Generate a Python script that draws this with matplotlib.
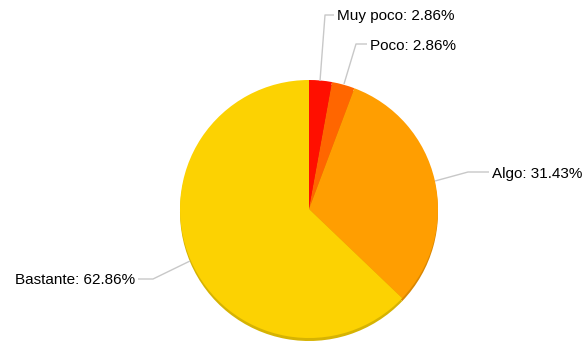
import matplotlib.pyplot as plt
import matplotlib.colors as mcolors

categories = ["Muy poco", "Poco", "Algo", "Bastante"]
percents = [2.86, 2.86, 31.43, 62.86]
colors = ["#FF0F00", "#FF6600", "#FF9E01", "#FCD202"]

# layout in pixel units (y measured from the top)
W, H = 588, 345
cx, cy, r = 309, 209, 129
depth = 3
# (anchor on pie, elbow, text start, ha)
label_layout = [
    ((320, 81), (325, 15), (337, 16), "left"),
    ((344, 84), (356, 44), (370, 46), "left"),
    ((435, 181), (468, 172), (492, 174), "left"),
    ((190, 261), (153, 279), (135, 280), "right"),
]


def darker(c, f=0.85):
    rgb = mcolors.to_rgb(c)
    return tuple(v * f for v in rgb)


fig = plt.figure(figsize=(W / 100, H / 100), dpi=100)
ax = fig.add_axes([0, 0, 1, 1])

# side / depth of the pie
ax.pie(percents, colors=[darker(c) for c in colors], startangle=90,
       counterclock=False, center=(cx, H - cy - depth), radius=r, frame=True)
# top face
ax.pie(percents, colors=colors, startangle=90, counterclock=False,
       center=(cx, H - cy), radius=r, frame=True)
ax.set_xlim(0, W)
ax.set_ylim(0, H)
ax.set_aspect("equal")
ax.axis("off")

for cat, pct, (anchor, elbow, txt, ha) in zip(categories, percents, label_layout):
    end = txt[0] + (-3 if ha == "left" else 3)
    xs = [anchor[0], elbow[0], end]
    ys = [H - anchor[1], H - elbow[1], H - elbow[1]]
    ax.plot(xs, ys, color="#c8c8c8", lw=1, solid_capstyle="butt")
    ax.text(txt[0], H - txt[1], f"{cat}: {pct:.2f}%", ha=ha, va="center",
            fontsize=11, family="Liberation Sans", color="#000000")

fig.savefig("out.png", dpi=100)
